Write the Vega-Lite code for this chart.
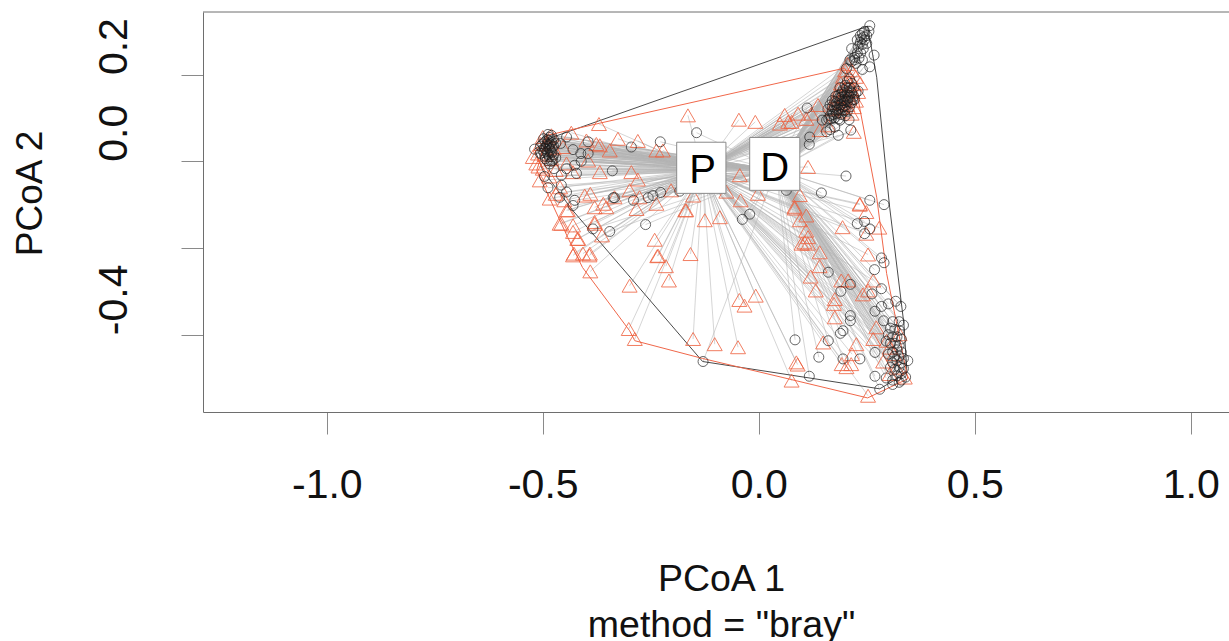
{"$schema":"https://vega.github.io/schema/vega-lite/v6.json","width":1026,"height":400,"autosize":"none","padding":{"left":203,"top":12,"right":0,"bottom":229},"background":"white","config":{"view":{"stroke":null},"font":"Liberation Sans"},
"datasets":{
"centroids":[{"g":"P","cx":-0.13,"cy":-0.02},{"g":"D","cx":0.04,"cy":-0.02}],
"boxes":[{"label":"P","x1":-0.19,"x2":-0.076,"y1":0.044,"y2":-0.074,"tx":-0.13,"ty":-0.023},{"label":"D","x1":-0.021,"x2":0.095,"y1":0.055,"y2":-0.067,"tx":0.037,"ty":-0.018}],
"frame":[{"x":-1.2866,"x2":1.0886,"y":0.3445}],
"hulls":[
{"g":"D","o":1,"x":-0.519,"y":0.028},{"g":"D","o":2,"x":-0.479,"y":0.055},{"g":"D","o":3,"x":0.252,"y":0.312},{"g":"D","o":4,"x":0.273,"y":0.194},{"g":"D","o":5,"x":0.303,"y":-0.106},{"g":"D","o":6,"x":0.336,"y":-0.375},{"g":"D","o":7,"x":0.343,"y":-0.488},{"g":"D","o":8,"x":0.28,"y":-0.525},{"g":"D","o":9,"x":-0.13,"y":-0.462},{"g":"D","o":10,"x":-0.431,"y":-0.113},{"g":"D","o":11,"x":-0.5,"y":-0.021},{"g":"D","o":12,"x":-0.519,"y":0.028},
{"g":"P","o":1,"x":-0.514,"y":-0.021},{"g":"P","o":2,"x":-0.489,"y":0.06},{"g":"P","o":3,"x":-0.368,"y":0.088},{"g":"P","o":4,"x":0.199,"y":0.215},{"g":"P","o":5,"x":0.225,"y":0.169},{"g":"P","o":6,"x":0.273,"y":-0.083},{"g":"P","o":7,"x":0.296,"y":-0.259},{"g":"P","o":8,"x":0.345,"y":-0.502},{"g":"P","o":9,"x":0.252,"y":-0.546},{"g":"P","o":10,"x":0.056,"y":-0.499},{"g":"P","o":11,"x":-0.13,"y":-0.455},{"g":"P","o":12,"x":-0.287,"y":-0.414},{"g":"P","o":13,"x":-0.299,"y":-0.391},{"g":"P","o":14,"x":-0.408,"y":-0.245},{"g":"P","o":15,"x":-0.442,"y":-0.176},{"g":"P","o":16,"x":-0.514,"y":-0.021}],
"points":[
{"g":"P","x":-0.164,"y":0.106},{"g":"P","x":-0.37,"y":0.086},{"g":"P","x":-0.434,"y":0.066},{"g":"P","x":-0.326,"y":0.052},{"g":"P","x":-0.28,"y":0.047},{"g":"P","x":-0.399,"y":0.048},{"g":"P","x":-0.368,"y":0.037},{"g":"P","x":-0.345,"y":0.025},{"g":"P","x":-0.222,"y":0.025},{"g":"P","x":-0.237,"y":0.025},{"g":"P","x":-0.376,"y":0.04},{"g":"P","x":-0.48,"y":0.06},{"g":"P","x":-0.5,"y":0.056},{"g":"P","x":-0.453,"y":0.033},{"g":"P","x":-0.395,"y":0.002},{"g":"P","x":-0.368,"y":-0.025},{"g":"P","x":-0.295,"y":-0.025},{"g":"P","x":-0.28,"y":-0.042},{"g":"P","x":-0.43,"y":-0.025},{"g":"P","x":-0.445,"y":-0.005},{"g":"P","x":-0.515,"y":-0.005},{"g":"P","x":-0.5,"y":-0.017},{"g":"P","x":-0.523,"y":0.01},{"g":"P","x":-0.511,"y":0.018},{"g":"P","x":-0.39,"y":-0.075},{"g":"P","x":-0.403,"y":-0.079},{"g":"P","x":-0.38,"y":-0.106},{"g":"P","x":-0.334,"y":-0.083},{"g":"P","x":-0.36,"y":-0.098},{"g":"P","x":-0.299,"y":-0.067},{"g":"P","x":-0.276,"y":-0.083},{"g":"P","x":-0.283,"y":-0.11},{"g":"P","x":-0.237,"y":-0.098},{"g":"P","x":-0.203,"y":-0.067},{"g":"P","x":-0.152,"y":-0.079},{"g":"P","x":-0.484,"y":-0.086},{"g":"P","x":-0.442,"y":-0.113},{"g":"P","x":-0.461,"y":-0.144},{"g":"P","x":-0.38,"y":-0.14},{"g":"P","x":-0.43,"y":-0.163},{"g":"P","x":-0.418,"y":-0.179},{"g":"P","x":-0.241,"y":-0.181},{"g":"P","x":-0.168,"y":-0.113},{"g":"P","x":-0.125,"y":-0.136},{"g":"P","x":-0.158,"y":-0.214},{"g":"P","x":-0.233,"y":-0.218},{"g":"P","x":-0.09,"y":-0.129},{"g":"P","x":-0.43,"y":-0.217},{"g":"P","x":-0.392,"y":-0.217},{"g":"P","x":-0.507,"y":-0.044},
{"g":"P","x":-0.445,"y":-0.113},{"g":"P","x":-0.38,"y":-0.144},{"g":"P","x":-0.363,"y":-0.171},{"g":"P","x":-0.457,"y":-0.144},{"g":"P","x":-0.43,"y":-0.148},{"g":"P","x":-0.42,"y":-0.179},{"g":"P","x":-0.428,"y":-0.213},{"g":"P","x":-0.407,"y":-0.213},{"g":"P","x":-0.391,"y":-0.213},{"g":"P","x":-0.39,"y":-0.254},{"g":"P","x":-0.299,"y":-0.287},{"g":"P","x":-0.301,"y":-0.387},{"g":"P","x":-0.287,"y":-0.41},{"g":"P","x":-0.235,"y":-0.219},{"g":"P","x":-0.215,"y":-0.242},{"g":"P","x":-0.208,"y":-0.275},{"g":"P","x":-0.17,"y":-0.113},{"g":"P","x":-0.152,"y":-0.41},{"g":"P","x":-0.102,"y":-0.422},{"g":"P","x":-0.048,"y":-0.429},{"g":"P","x":-0.353,"y":-0.106},{"g":"P","x":-0.045,"y":-0.32},
{"g":"P","x":-0.49,"y":0.045},{"g":"P","x":-0.505,"y":0.04},{"g":"P","x":-0.475,"y":0.03},{"g":"P","x":-0.495,"y":0.015},{"g":"P","x":-0.48,"y":0.005},{"g":"P","x":-0.51,"y":-0.012},{"g":"P","x":-0.47,"y":-0.02},{"g":"P","x":-0.485,"y":-0.035},{"g":"P","x":-0.46,"y":-0.06},{"g":"P","x":-0.47,"y":-0.075},{"g":"P","x":-0.45,"y":-0.09},
{"g":"P","x":-0.046,"y":0.096},{"g":"P","x":-0.008,"y":0.091},{"g":"P","x":0.06,"y":0.107},{"g":"P","x":0.049,"y":0.087},{"g":"P","x":0.068,"y":0.091},{"g":"P","x":0.076,"y":0.091},{"g":"P","x":0.091,"y":0.11},{"g":"P","x":0.137,"y":0.13},{"g":"P","x":0.122,"y":0.11},{"g":"P","x":0.11,"y":0.098},{"g":"P","x":0.114,"y":-0.013},{"g":"P","x":-0.044,"y":-0.032},{"g":"P","x":-0.075,"y":-0.07},{"g":"P","x":-0.042,"y":-0.09},{"g":"P","x":-0.002,"y":-0.075},{"g":"P","x":0.083,"y":-0.105},{"g":"P","x":0.095,"y":-0.078},{"g":"P","x":0.234,"y":-0.098},{"g":"P","x":0.141,"y":0.072},{"g":"P","x":0.16,"y":0.083},{"g":"P","x":0.22,"y":0.068},{"g":"P","x":0.188,"y":0.123},
{"g":"P","x":0.205,"y":0.225},{"g":"P","x":0.2,"y":0.21},{"g":"P","x":0.215,"y":0.21},{"g":"P","x":0.195,"y":0.195},{"g":"P","x":0.21,"y":0.195},{"g":"P","x":0.225,"y":0.195},{"g":"P","x":0.19,"y":0.18},{"g":"P","x":0.205,"y":0.178},{"g":"P","x":0.22,"y":0.178},{"g":"P","x":0.235,"y":0.18},{"g":"P","x":0.185,"y":0.165},{"g":"P","x":0.2,"y":0.165},{"g":"P","x":0.215,"y":0.165},{"g":"P","x":0.23,"y":0.16},{"g":"P","x":0.18,"y":0.15},{"g":"P","x":0.195,"y":0.15},{"g":"P","x":0.21,"y":0.145},{"g":"P","x":0.225,"y":0.14},{"g":"P","x":0.175,"y":0.135},{"g":"P","x":0.19,"y":0.135},{"g":"P","x":0.205,"y":0.13},{"g":"P","x":0.22,"y":0.125},{"g":"P","x":0.17,"y":0.12},{"g":"P","x":0.2,"y":0.115},{"g":"P","x":0.215,"y":0.11},
{"g":"P","x":0.083,"y":-0.109},{"g":"P","x":0.11,"y":-0.125},{"g":"P","x":0.095,"y":-0.136},{"g":"P","x":0.11,"y":-0.16},{"g":"P","x":0.114,"y":-0.175},{"g":"P","x":0.106,"y":-0.187},{"g":"P","x":0.114,"y":-0.19},{"g":"P","x":0.099,"y":-0.19},{"g":"P","x":0.141,"y":-0.21},{"g":"P","x":0.141,"y":-0.242},{"g":"P","x":0.12,"y":-0.266},{"g":"P","x":0.132,"y":-0.298},{"g":"P","x":0.191,"y":-0.275},{"g":"P","x":0.207,"y":-0.275},{"g":"P","x":0.194,"y":-0.152},{"g":"P","x":0.234,"y":-0.1},{"g":"P","x":0.249,"y":-0.117},{"g":"P","x":0.279,"y":-0.153},{"g":"P","x":0.249,"y":-0.167},{"g":"P","x":0.253,"y":-0.215},{"g":"P","x":0.265,"y":-0.275},{"g":"P","x":0.253,"y":-0.298},{"g":"P","x":0.241,"y":-0.307},{"g":"P","x":0.176,"y":-0.318},{"g":"P","x":0.174,"y":-0.329},{"g":"P","x":0.176,"y":-0.36},{"g":"P","x":0.272,"y":-0.383},{"g":"P","x":0.265,"y":-0.41},{"g":"P","x":0.149,"y":-0.418},{"g":"P","x":0.226,"y":-0.422},{"g":"P","x":0.216,"y":-0.445},{"g":"P","x":0.192,"y":-0.468},{"g":"P","x":0.203,"y":-0.475},{"g":"P","x":0.214,"y":-0.468},{"g":"P","x":0.087,"y":-0.464},{"g":"P","x":0.09,"y":-0.469},{"g":"P","x":0.076,"y":-0.506},{"g":"P","x":0.253,"y":-0.541},{"g":"P","x":0.338,"y":-0.499},{"g":"P","x":-0.007,"y":-0.31},{"g":"P","x":-0.033,"y":-0.333},{"g":"P","x":0.303,"y":-0.43},{"g":"P","x":0.288,"y":-0.462},{"g":"P","x":0.319,"y":-0.476},{"g":"P","x":0.303,"y":-0.491},{"g":"P","x":0.326,"y":-0.399},{"g":"P","x":0.296,"y":-0.414},{"g":"P","x":0.313,"y":-0.445},
{"g":"D","x":-0.49,"y":0.05},{"g":"D","x":-0.485,"y":0.055},{"g":"D","x":-0.48,"y":0.06},{"g":"D","x":-0.495,"y":0.045},{"g":"D","x":-0.5,"y":0.04},{"g":"D","x":-0.49,"y":0.04},{"g":"D","x":-0.48,"y":0.045},{"g":"D","x":-0.475,"y":0.05},{"g":"D","x":-0.505,"y":0.035},{"g":"D","x":-0.495,"y":0.03},{"g":"D","x":-0.485,"y":0.03},{"g":"D","x":-0.475,"y":0.035},{"g":"D","x":-0.47,"y":0.042},{"g":"D","x":-0.5,"y":0.025},{"g":"D","x":-0.49,"y":0.022},{"g":"D","x":-0.48,"y":0.02},{"g":"D","x":-0.495,"y":0.012},{"g":"D","x":-0.485,"y":0.01},{"g":"D","x":-0.475,"y":0.015},{"g":"D","x":-0.505,"y":0.018},{"g":"D","x":-0.49,"y":0.002},{"g":"D","x":-0.48,"y":0.0},{"g":"D","x":-0.47,"y":0.008},{"g":"D","x":-0.498,"y":0.052},{"g":"D","x":-0.488,"y":0.062},{"g":"D","x":-0.478,"y":0.033},{"g":"D","x":-0.492,"y":0.035},{"g":"D","x":-0.483,"y":0.04},{"g":"D","x":-0.487,"y":0.048},{"g":"D","x":-0.497,"y":0.02},{"g":"D","x":-0.519,"y":0.028},{"g":"D","x":-0.482,"y":0.026},{"g":"D","x":-0.493,"y":0.028},{"g":"D","x":-0.488,"y":0.016},{"g":"D","x":-0.478,"y":0.01},{"g":"D","x":-0.486,"y":0.036},{"g":"D","x":-0.494,"y":0.006},{"g":"D","x":-0.484,"y":-0.006},
{"g":"D","x":-0.445,"y":0.056},{"g":"D","x":-0.395,"y":0.045},{"g":"D","x":-0.459,"y":0.041},{"g":"D","x":-0.43,"y":0.027},{"g":"D","x":-0.412,"y":0.018},{"g":"D","x":-0.395,"y":0.018},{"g":"D","x":-0.411,"y":0.0},{"g":"D","x":-0.295,"y":0.033},{"g":"D","x":-0.228,"y":0.045},{"g":"D","x":-0.144,"y":0.066},{"g":"D","x":-0.339,"y":-0.022},{"g":"D","x":-0.477,"y":0.002},{"g":"D","x":-0.474,"y":-0.017},{"g":"D","x":-0.445,"y":-0.017},{"g":"D","x":-0.426,"y":-0.009},{"g":"D","x":-0.496,"y":-0.035},{"g":"D","x":-0.457,"y":-0.032},{"g":"D","x":-0.422,"y":-0.028},{"g":"D","x":-0.488,"y":-0.061},{"g":"D","x":-0.457,"y":-0.055},{"g":"D","x":-0.445,"y":-0.071},{"g":"D","x":-0.461,"y":-0.083},{"g":"D","x":-0.426,"y":-0.09},{"g":"D","x":-0.43,"y":-0.102},{"g":"D","x":-0.337,"y":-0.084},{"g":"D","x":-0.334,"y":-0.084},{"g":"D","x":-0.29,"y":-0.09},{"g":"D","x":-0.256,"y":-0.084},{"g":"D","x":-0.245,"y":-0.079},{"g":"D","x":-0.227,"y":-0.072},{"g":"D","x":-0.183,"y":-0.069},{"g":"D","x":-0.384,"y":-0.156},{"g":"D","x":-0.345,"y":-0.162},{"g":"D","x":-0.262,"y":-0.146},{"g":"D","x":-0.129,"y":-0.462},
{"g":"D","x":0.257,"y":0.313},{"g":"D","x":0.245,"y":0.3},{"g":"D","x":0.24,"y":0.295},{"g":"D","x":0.235,"y":0.29},{"g":"D","x":0.25,"y":0.29},{"g":"D","x":0.245,"y":0.28},{"g":"D","x":0.235,"y":0.275},{"g":"D","x":0.24,"y":0.27},{"g":"D","x":0.25,"y":0.272},{"g":"D","x":0.23,"y":0.265},{"g":"D","x":0.242,"y":0.26},{"g":"D","x":0.228,"y":0.25},{"g":"D","x":0.236,"y":0.25},{"g":"D","x":0.222,"y":0.24},{"g":"D","x":0.232,"y":0.238},{"g":"D","x":0.225,"y":0.226},{"g":"D","x":0.215,"y":0.23},{"g":"D","x":0.243,"y":0.287},{"g":"D","x":0.238,"y":0.283},{"g":"D","x":0.228,"y":0.28},{"g":"D","x":0.255,"y":0.3},{"g":"D","x":0.267,"y":0.245},{"g":"D","x":0.215,"y":0.26},{"g":"D","x":0.257,"y":0.218},{"g":"D","x":0.24,"y":0.212},{"g":"D","x":0.24,"y":0.234},{"g":"D","x":0.222,"y":0.234},{"g":"D","x":0.211,"y":0.234},{"g":"D","x":0.203,"y":0.214},{"g":"D","x":0.23,"y":0.162},{"g":"D","x":0.222,"y":0.143},{"g":"D","x":0.112,"y":0.123},{"g":"D","x":0.118,"y":0.056},{"g":"D","x":0.117,"y":0.039},{"g":"D","x":0.202,"y":-0.034},{"g":"D","x":0.145,"y":-0.073},{"g":"D","x":0.257,"y":-0.09},{"g":"D","x":0.29,"y":-0.1},{"g":"D","x":0.064,"y":-0.067},
{"g":"D","x":0.21,"y":0.19},{"g":"D","x":0.205,"y":0.185},{"g":"D","x":0.215,"y":0.18},{"g":"D","x":0.2,"y":0.175},{"g":"D","x":0.21,"y":0.17},{"g":"D","x":0.22,"y":0.17},{"g":"D","x":0.195,"y":0.165},{"g":"D","x":0.205,"y":0.16},{"g":"D","x":0.215,"y":0.158},{"g":"D","x":0.19,"y":0.155},{"g":"D","x":0.2,"y":0.15},{"g":"D","x":0.21,"y":0.148},{"g":"D","x":0.22,"y":0.15},{"g":"D","x":0.185,"y":0.145},{"g":"D","x":0.195,"y":0.14},{"g":"D","x":0.205,"y":0.138},{"g":"D","x":0.215,"y":0.135},{"g":"D","x":0.18,"y":0.135},{"g":"D","x":0.19,"y":0.13},{"g":"D","x":0.2,"y":0.128},{"g":"D","x":0.21,"y":0.125},{"g":"D","x":0.175,"y":0.125},{"g":"D","x":0.185,"y":0.12},{"g":"D","x":0.195,"y":0.118},{"g":"D","x":0.205,"y":0.115},{"g":"D","x":0.17,"y":0.115},{"g":"D","x":0.18,"y":0.11},{"g":"D","x":0.19,"y":0.108},{"g":"D","x":0.2,"y":0.105},{"g":"D","x":0.165,"y":0.105},{"g":"D","x":0.175,"y":0.1},{"g":"D","x":0.185,"y":0.098},{"g":"D","x":0.16,"y":0.12},{"g":"D","x":0.165,"y":0.13},{"g":"D","x":0.17,"y":0.14},{"g":"D","x":0.178,"y":0.15},{"g":"D","x":0.188,"y":0.17},{"g":"D","x":0.198,"y":0.158},{"g":"D","x":0.208,"y":0.152},{"g":"D","x":0.202,"y":0.142},{"g":"D","x":0.192,"y":0.148},{"g":"D","x":0.182,"y":0.128},{"g":"D","x":0.192,"y":0.122},{"g":"D","x":0.172,"y":0.108},{"g":"D","x":0.162,"y":0.098},{"g":"D","x":0.212,"y":0.162},{"g":"D","x":0.225,"y":0.158},{"g":"D","x":0.218,"y":0.142},{"g":"D","x":0.198,"y":0.135},{"g":"D","x":0.188,"y":0.14},{"g":"D","x":0.178,"y":0.118},{"g":"D","x":0.186,"y":0.112},{"g":"D","x":0.196,"y":0.126},{"g":"D","x":0.206,"y":0.144},{"g":"D","x":0.193,"y":0.16},{"g":"D","x":0.203,"y":0.17},{"g":"D","x":0.17,"y":0.126},{"g":"D","x":0.176,"y":0.138},{"g":"D","x":0.184,"y":0.152},{"g":"D","x":0.212,"y":0.138},{"g":"D","x":0.2,"y":0.118},{"g":"D","x":0.168,"y":0.098},
{"g":"D","x":0.147,"y":0.095},{"g":"D","x":0.157,"y":0.095},{"g":"D","x":0.209,"y":0.096},{"g":"D","x":0.188,"y":0.095},{"g":"D","x":0.176,"y":0.079},{"g":"D","x":0.157,"y":0.068},{"g":"D","x":0.184,"y":0.06},{"g":"D","x":0.213,"y":0.072},{"g":"D","x":0.165,"y":0.073},
{"g":"D","x":-0.038,"y":-0.134},{"g":"D","x":-0.021,"y":-0.122},{"g":"D","x":0.228,"y":-0.144},{"g":"D","x":0.245,"y":-0.139},{"g":"D","x":0.257,"y":-0.156},{"g":"D","x":0.245,"y":-0.167},{"g":"D","x":0.284,"y":-0.223},{"g":"D","x":0.29,"y":-0.234},{"g":"D","x":0.268,"y":-0.25},{"g":"D","x":0.161,"y":-0.256},{"g":"D","x":0.212,"y":-0.284},{"g":"D","x":0.19,"y":-0.3},{"g":"D","x":0.284,"y":-0.294},{"g":"D","x":0.262,"y":-0.306},{"g":"D","x":0.269,"y":-0.346},{"g":"D","x":0.284,"y":-0.335},{"g":"D","x":0.3,"y":-0.329},{"g":"D","x":0.317,"y":-0.323},{"g":"D","x":0.329,"y":-0.335},{"g":"D","x":0.289,"y":-0.368},{"g":"D","x":0.212,"y":-0.356},{"g":"D","x":0.212,"y":-0.368},{"g":"D","x":0.195,"y":-0.391},{"g":"D","x":0.189,"y":-0.397},{"g":"D","x":0.161,"y":-0.414},{"g":"D","x":0.084,"y":-0.412},{"g":"D","x":0.139,"y":-0.452},{"g":"D","x":0.195,"y":-0.456},{"g":"D","x":0.234,"y":-0.456},{"g":"D","x":0.269,"y":-0.441},{"g":"D","x":0.117,"y":-0.496},{"g":"D","x":0.269,"y":-0.496},{"g":"D","x":0.28,"y":-0.526},
{"g":"D","x":0.31,"y":-0.37},{"g":"D","x":0.325,"y":-0.37},{"g":"D","x":0.335,"y":-0.378},{"g":"D","x":0.305,"y":-0.385},{"g":"D","x":0.315,"y":-0.388},{"g":"D","x":0.325,"y":-0.39},{"g":"D","x":0.3,"y":-0.4},{"g":"D","x":0.31,"y":-0.405},{"g":"D","x":0.32,"y":-0.405},{"g":"D","x":0.33,"y":-0.41},{"g":"D","x":0.295,"y":-0.415},{"g":"D","x":0.305,"y":-0.42},{"g":"D","x":0.315,"y":-0.42},{"g":"D","x":0.325,"y":-0.425},{"g":"D","x":0.32,"y":-0.435},{"g":"D","x":0.33,"y":-0.44},{"g":"D","x":0.31,"y":-0.44},{"g":"D","x":0.3,"y":-0.445},{"g":"D","x":0.315,"y":-0.45},{"g":"D","x":0.325,"y":-0.45},{"g":"D","x":0.335,"y":-0.455},{"g":"D","x":0.32,"y":-0.46},{"g":"D","x":0.33,"y":-0.465},{"g":"D","x":0.31,"y":-0.465},{"g":"D","x":0.345,"y":-0.46},{"g":"D","x":0.325,"y":-0.475},{"g":"D","x":0.315,"y":-0.48},{"g":"D","x":0.335,"y":-0.478},{"g":"D","x":0.305,"y":-0.475},{"g":"D","x":0.33,"y":-0.49},{"g":"D","x":0.32,"y":-0.495},{"g":"D","x":0.34,"y":-0.498},{"g":"D","x":0.31,"y":-0.505},{"g":"D","x":0.295,"y":-0.5},{"g":"D","x":0.325,"y":-0.51},{"g":"D","x":0.33,"y":-0.505},{"g":"D","x":0.31,"y":-0.515}
]},
"data":{"name":"points"},
"layer":[
{"transform":[{"lookup":"g","from":{"data":{"name":"centroids"},"key":"g","fields":["cx","cy"]}}],
"mark":{"type":"rule","color":"#b4b4b4","strokeWidth":0.8,"opacity":0.7},
"encoding":{"x":{"field":"x","type":"quantitative","scale":{"domain":[-1.2866,1.0886],"nice":false,"zero":false},
"axis":{"values":[-1,-0.5,0,0.5,1],"labelExpr":"replace(format(datum.value,'.1f'),'\u2212','-')","grid":false,"tickSize":22,"tickColor":"#8a8a8a","tickWidth":1,"domainColor":"#6e6e6e","domainWidth":1,"labelFontSize":41,"labelColor":"#111","labelPadding":31,"labelFlush":false,"labelOverlap":false,"title":["PCoA 1","method = \"bray\""],"titleFontSize":37.5,"titleFontWeight":"normal","titleColor":"#111","titleLineHeight":46,"titleX":518,"titleY":178,"titleAnchor":"middle","titleAlign":"center","titleBaseline":"alphabetic"}},
"y":{"field":"y","type":"quantitative","scale":{"domain":[-0.5785,0.3445],"nice":false,"zero":false},
"axis":{"values":[0.2,0,-0.2,-0.4],"labelExpr":"datum.value==-0.2?'':replace(format(datum.value,'.1f'),'\u2212','-')","grid":false,"tickSize":22,"tickColor":"#8a8a8a","tickWidth":1,"domainColor":"#6e6e6e","domainWidth":1,"labelFontSize":41,"labelColor":"#111","labelAngle":-90,"labelAlign":"left","labelBaseline":"alphabetic","labelPadding":55,"labelOverlap":false,"labelFlush":false,"title":"PCoA 2","titleFontSize":37,"titleFontWeight":"normal","titleColor":"#111","titleAngle":-90,"titleX":-162,"titleY":181,"titleAlign":"center","titleBaseline":"alphabetic"}},
"x2":{"field":"cx"},"y2":{"field":"cy"}}},
{"data":{"name":"frame"},"mark":{"type":"rule","color":"#6e6e6e","strokeWidth":1},"encoding":{"x":{"field":"x","type":"quantitative"},"x2":{"field":"x2"},"y":{"field":"y","type":"quantitative"}}},
{"data":{"name":"hulls"},"transform":[{"filter":"datum.g=='D'"}],"mark":{"type":"line","color":"#4a4a4a","strokeWidth":1},"encoding":{"x":{"field":"x","type":"quantitative"},"y":{"field":"y","type":"quantitative"},"order":{"field":"o","type":"quantitative"}}},
{"data":{"name":"hulls"},"transform":[{"filter":"datum.g=='P'"}],"mark":{"type":"line","color":"#f0674a","strokeWidth":1},"encoding":{"x":{"field":"x","type":"quantitative"},"y":{"field":"y","type":"quantitative"},"order":{"field":"o","type":"quantitative"}}},
{"transform":[{"filter":"datum.g=='P'"}],"mark":{"type":"point","shape":"triangle-up","filled":false,"size":225,"stroke":"#ef5f3c","strokeWidth":1,"opacity":0.8},"encoding":{"x":{"field":"x","type":"quantitative"},"y":{"field":"y","type":"quantitative"}}},
{"transform":[{"filter":"datum.g=='D'"}],"mark":{"type":"point","shape":"circle","filled":false,"size":100,"stroke":"#1c1c1c","strokeWidth":0.9,"opacity":0.75},"encoding":{"x":{"field":"x","type":"quantitative"},"y":{"field":"y","type":"quantitative"}}},
{"data":{"name":"boxes"},"mark":{"type":"rect","fill":"white","stroke":"#8a8a8a","strokeWidth":1},"encoding":{"x":{"field":"x1","type":"quantitative"},"x2":{"field":"x2"},"y":{"field":"y1","type":"quantitative"},"y2":{"field":"y2"}}},
{"data":{"name":"boxes"},"mark":{"type":"text","fontSize":40,"color":"black","baseline":"middle","align":"center"},"encoding":{"x":{"field":"tx","type":"quantitative"},"y":{"field":"ty","type":"quantitative"},"text":{"field":"label"}}}
]}
